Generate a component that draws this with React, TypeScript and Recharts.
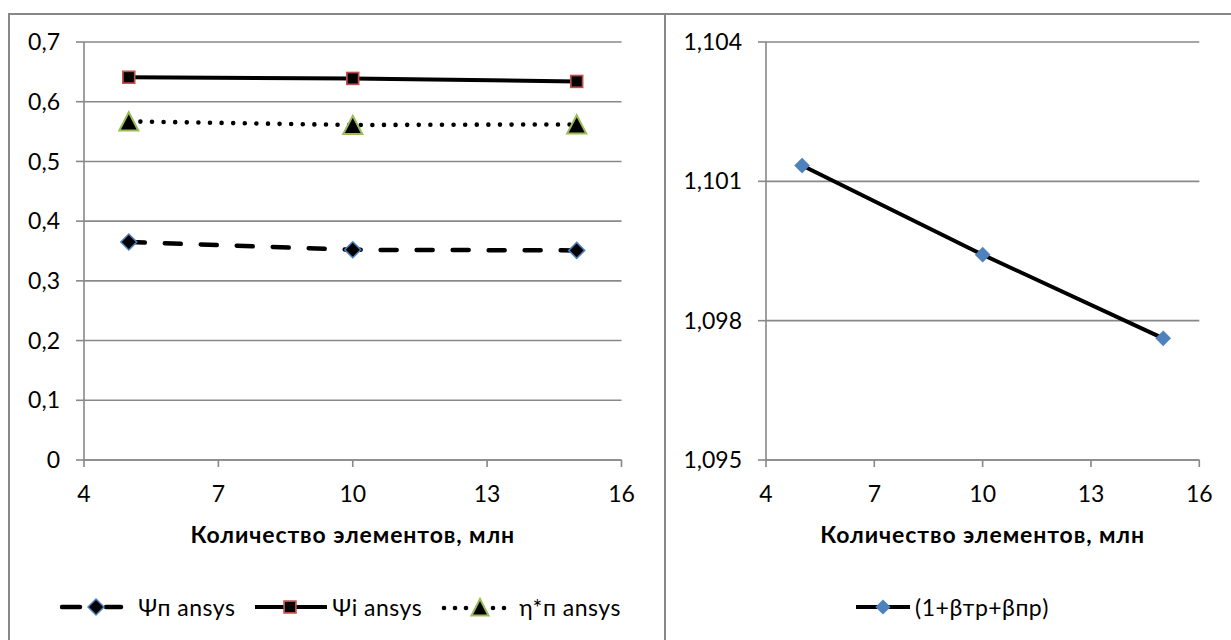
import React from 'react';
import { LineChart, Line, XAxis, YAxis, CartesianGrid, Legend } from 'recharts';

// Mesh size, million elements
const elementCounts = [5, 10, 15];

// Left chart series
const psiPAnsys = [0.365, 0.352, 0.351];
const psiIAnsys = [0.641, 0.639, 0.634];
const etaPAnsys = [0.567, 0.561, 0.562];

// Right chart series
const betaSum = [1.10134, 1.09942, 1.09762];

const xTicks = [4, 7, 10, 13, 16];
const leftYTicks = [0, 0.1, 0.2, 0.3, 0.4, 0.5, 0.6, 0.7];
const rightYTicks = [1.095, 1.098, 1.101, 1.104];

const namePsiP = 'Ψп ansys';
const namePsiI = 'Ψi ansys';
const nameEta = 'η*п ansys';
const nameBeta = '(1+βтр+βпр)';
const xTitle = 'Количество элементов, млн';

const leftData = elementCounts.map((x, i) => ({
  x,
  psiP: psiPAnsys[i],
  psiI: psiIAnsys[i],
  eta: etaPAnsys[i],
}));
const rightData = elementCounts.map((x, i) => ({ x, beta: betaSum[i] }));

const FONT = "Lato, 'Open Sans', 'DejaVu Sans', sans-serif";
const GRID = '#888888';
const BLUE = '#4f81bd';
const RED = '#c0504d';
const GREEN = '#9bbb59';

const fmt = (v: number) => String(Number(v.toFixed(3))).replace('.', ',');

type MarkProps = { cx: number; cy: number };

const diamondPath = (cx: number, cy: number, r: number) =>
  `M${cx},${cy - r}L${cx + r},${cy}L${cx},${cy + r}L${cx - r},${cy}Z`;

const DiamondOutlined = ({ cx, cy }: MarkProps) => (
  <path d={diamondPath(cx, cy, 8)} fill="#000" stroke={BLUE} strokeWidth={1.5} />
);
const SquareOutlined = ({ cx, cy }: MarkProps) => (
  <rect x={cx - 5.9} y={cy - 5.9} width={11.8} height={11.8} fill="#000" stroke={RED} strokeWidth={1.7} />
);
const TriangleOutlined = ({ cx, cy }: MarkProps) => (
  <path
    d={`M${cx},${cy - 9.2}L${cx + 9.5},${cy + 9}L${cx - 9.5},${cy + 9}Z`}
    fill="#000"
    stroke={GREEN}
    strokeWidth={2}
  />
);
const DiamondBlue = ({ cx, cy }: MarkProps) => (
  <path d={diamondPath(cx, cy, 7.6)} fill={BLUE} stroke={BLUE} strokeWidth={0.5} />
);

const dotRenderer = (Shape: (p: MarkProps) => React.ReactElement) => (p: any) => (
  <Shape key={`${p.dataKey}-${p.index}`} cx={p.cx} cy={p.cy} />
);

const tickStyle = { fill: '#000', fontSize: 23, fontFamily: FONT };
const axisLineStyle = { stroke: GRID, strokeWidth: 1.6 };

const renderXTitle = (props: any) => {
  const vb = props.viewBox || {};
  return (
    <text
      x={vb.x + vb.width / 2}
      y={vb.y + 83}
      textAnchor="middle"
      fontFamily={FONT}
      fontSize={23}
      fontWeight={700}
      letterSpacing={0.9}
      fill="#000"
    >
      {xTitle}
    </text>
  );
};

type LegendEntry = { name: string; icon: React.ReactElement };

const LegendRow = ({ entries }: { entries: LegendEntry[] }) => (
  <div
    style={{
      display: 'flex',
      justifyContent: 'center',
      alignItems: 'center',
      height: 30,
      fontFamily: FONT,
      fontSize: 23,
      letterSpacing: 0.5,
      color: '#000',
      whiteSpace: 'nowrap',
    }}
  >
    {entries.map((e, i) => (
      <div key={i} style={{ display: 'flex', alignItems: 'center', marginLeft: i === 0 ? 0 : 19 }}>
        {e.icon}
        <span style={{ marginLeft: 4 }}>{e.name}</span>
      </div>
    ))}
  </div>
);

const iconPsiP = (
  <svg width={74} height={22}>
    <line x1={2} y1={11} x2={20} y2={11} stroke="#000" strokeWidth={4.5} strokeLinecap="round" />
    <line x1={46} y1={11} x2={61} y2={11} stroke="#000" strokeWidth={4.5} strokeLinecap="round" />
    <path d={diamondPath(36, 11, 8)} fill="#000" stroke={BLUE} strokeWidth={1.5} />
  </svg>
);
const iconPsiI = (
  <svg width={74} height={22}>
    <line x1={1} y1={11} x2={73} y2={11} stroke="#000" strokeWidth={4} />
    <rect x={36 - 5.9} y={11 - 5.9} width={11.8} height={11.8} fill="#000" stroke={RED} strokeWidth={1.7} />
  </svg>
);
const iconEta = (
  <svg width={74} height={22}>
    {[3, 14, 25, 52, 63].map((x) => (
      <circle key={x} cx={x} cy={12} r={2.3} fill="#000" />
    ))}
    <path d={`M39,3L47.5,19.5L30.5,19.5Z`} fill="#000" stroke={GREEN} strokeWidth={2} />
  </svg>
);
const iconBeta = (
  <svg width={56} height={22}>
    <line x1={1} y1={11} x2={55} y2={11} stroke="#000" strokeWidth={4} />
    <path d={diamondPath(28, 11, 7.6)} fill={BLUE} />
  </svg>
);

const LeftChart = () => (
  <LineChart
    width={665}
    height={640}
    data={leftData}
    margin={{ top: 42, right: 43.5, bottom: 18, left: 0 }}
  >
    <CartesianGrid horizontal vertical={false} stroke={GRID} strokeWidth={1.6} />
    <XAxis
      type="number"
      dataKey="x"
      domain={[4, 16]}
      ticks={xTicks}
      interval={0}
      height={132}
      tickSize={7}
      tickMargin={19}
      tick={tickStyle}
      tickLine={axisLineStyle}
      axisLine={axisLineStyle}
      label={renderXTitle}
    />
    <YAxis
      type="number"
      domain={[0, 0.7]}
      ticks={leftYTicks}
      interval={0}
      width={84}
      tickSize={8}
      tickMargin={16}
      tick={tickStyle}
      tickLine={axisLineStyle}
      axisLine={axisLineStyle}
      tickFormatter={fmt}
    />
    <Legend
      verticalAlign="bottom"
      wrapperStyle={{ left: 0, width: 681, height: 30 }}
      content={() => (
        <LegendRow
          entries={[
            { name: namePsiP, icon: iconPsiP },
            { name: namePsiI, icon: iconPsiI },
            { name: nameEta, icon: iconEta },
          ]}
        />
      )}
    />
    <Line
      dataKey="psiP"
      name={namePsiP}
      stroke="#000"
      strokeWidth={4.5}
      strokeDasharray="16 20"
      strokeLinecap="round"
      dot={dotRenderer(DiamondOutlined)}
      isAnimationActive={false}
    />
    <Line
      dataKey="psiI"
      name={namePsiI}
      stroke="#000"
      strokeWidth={4}
      dot={dotRenderer(SquareOutlined)}
      isAnimationActive={false}
    />
    <Line
      dataKey="eta"
      name={nameEta}
      stroke="#000"
      strokeWidth={4.6}
      strokeDasharray="0 11.6"
      strokeLinecap="round"
      dot={dotRenderer(TriangleOutlined)}
      isAnimationActive={false}
    />
  </LineChart>
);

const RightChart = () => (
  <LineChart
    width={566}
    height={640}
    data={rightData}
    margin={{ top: 42, right: 31.7, bottom: 18, left: 0 }}
  >
    <CartesianGrid horizontal vertical={false} stroke={GRID} strokeWidth={1.6} />
    <XAxis
      type="number"
      dataKey="x"
      domain={[4, 16]}
      ticks={xTicks}
      interval={0}
      height={132}
      tickSize={7}
      tickMargin={19}
      tick={tickStyle}
      tickLine={axisLineStyle}
      axisLine={axisLineStyle}
      label={renderXTitle}
    />
    <YAxis
      type="number"
      domain={[1.095, 1.104]}
      ticks={rightYTicks}
      interval={0}
      width={101}
      tickSize={8}
      tickMargin={16}
      tick={tickStyle}
      tickLine={axisLineStyle}
      axisLine={axisLineStyle}
      tickFormatter={fmt}
      allowDataOverflow
    />
    <Legend
      verticalAlign="bottom"
      wrapperStyle={{ left: 0, width: 574, height: 30 }}
      content={() => <LegendRow entries={[{ name: nameBeta, icon: iconBeta }]} />}
    />
    <Line
      dataKey="beta"
      name={nameBeta}
      stroke="#000"
      strokeWidth={4}
      dot={dotRenderer(DiamondBlue)}
      isAnimationActive={false}
    />
  </LineChart>
);

export default function App() {
  return (
    <div
      style={{
        position: 'absolute',
        left: 0,
        top: 0,
        width: 1231,
        height: 640,
        overflow: 'hidden',
        background: '#fff',
      }}
    >
      <div
        style={{
          position: 'absolute',
          left: 8,
          top: 13,
          width: 658,
          height: 700,
          border: `2px solid ${GRID}`,
          boxSizing: 'border-box',
        }}
      />
      <div
        style={{
          position: 'absolute',
          left: 664,
          top: 13,
          width: 700,
          height: 700,
          border: `2px solid ${GRID}`,
          boxSizing: 'border-box',
        }}
      />
      <div style={{ position: 'absolute', left: 0, top: 0 }}>
        <LeftChart />
      </div>
      <div style={{ position: 'absolute', left: 665, top: 0, overflow: 'hidden', width: 566, height: 640 }}>
        <RightChart />
      </div>
    </div>
  );
}
